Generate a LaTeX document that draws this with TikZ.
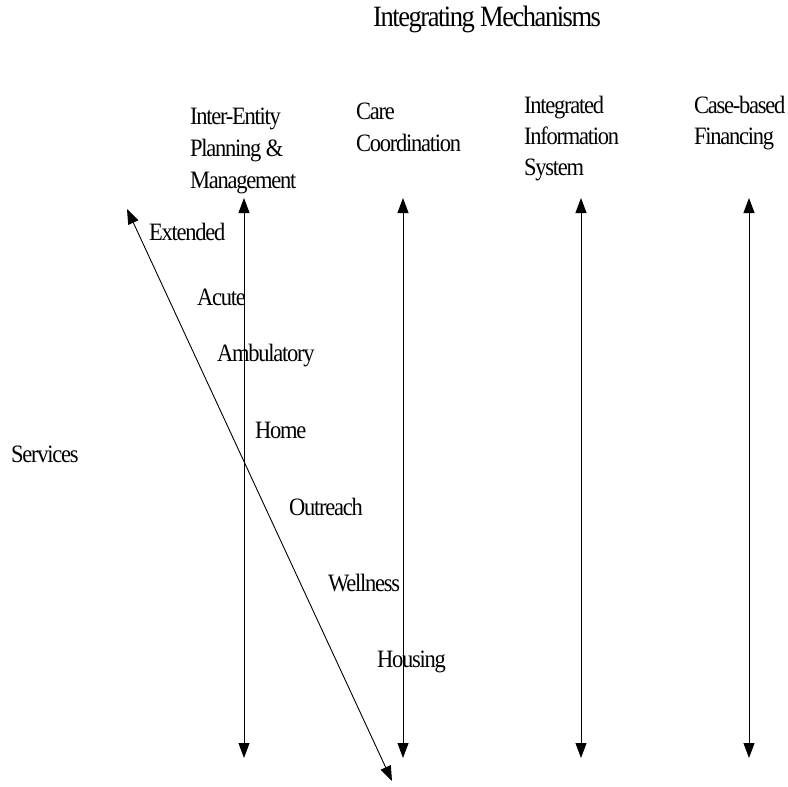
\documentclass[tikz,border=0pt]{standalone}
\usepackage{fontspec}
\setmainfont{Liberation Serif}[FakeStretch=0.9, LetterSpace=-5]
\usetikzlibrary{arrows.meta}
\tikzset{
  lbl/.style={anchor=base west, inner sep=0pt, font=\fontsize{25}{31}\selectfont, align=left},
  ttl/.style={anchor=base west, inner sep=0pt, font=\fontsize{29.5}{33}\selectfont},
  axis/.style={line width=0.9pt, {Triangle[length=15pt,width=11pt]}-{Triangle[length=15pt,width=11pt]}},
}
\begin{document}
\begin{tikzpicture}[x=1pt, y=-1pt]
  \useasboundingbox (0,0) rectangle (788,787);

  % title
  \node[ttl] (title) at (373,27) {Integrating Mechanisms};

  % mechanism headers
  \node[lbl] (h1) at (190,124) {Inter-Entity};
  \node[lbl] (h1b) at (190,156) {Planning \&};
  \node[lbl] (h1c) at (190,188) {Management};
  \node[lbl] (h2) at (356,119) {Care};
  \node[lbl] (h2b) at (356,151) {Coordination};
  \node[lbl] (h3) at (524,113) {Integrated};
  \node[lbl] (h3b) at (524,144) {Information};
  \node[lbl] (h3c) at (524,175) {System};
  \node[lbl] (h4) at (694,113) {Case-based};
  \node[lbl] (h4b) at (694,144) {Financing};

  % services side
  \node[lbl] (svc) at (11,462) {Services};
  \node[lbl] (s1) at (149,240) {Extended};
  \node[lbl] (s2) at (197,305) {Acute};
  \node[lbl] (s3) at (217,361) {Ambulatory};
  \node[lbl] (s4) at (255,438) {Home};
  \node[lbl] (s5) at (289,515) {Outreach};
  \node[lbl] (s6) at (328,591) {Wellness};
  \node[lbl] (s7) at (377,667) {Housing};

  % arrow end points
  \coordinate (a1t) at (244,198); \coordinate (a1b) at (244,758);
  \coordinate (a2t) at (403,198); \coordinate (a2b) at (403,758);
  \coordinate (a3t) at (581,198); \coordinate (a3b) at (581,758);
  \coordinate (a4t) at (749,198); \coordinate (a4b) at (749,758);
  \coordinate (dt) at (127,209);  \coordinate (db) at (392,781);

  \draw[axis] (a1t) -- (a1b);
  \draw[axis] (a2t) -- (a2b);
  \draw[axis] (a3t) -- (a3b);
  \draw[axis] (a4t) -- (a4b);
  \draw[axis] (dt) -- (db);
\end{tikzpicture}
\end{document}
